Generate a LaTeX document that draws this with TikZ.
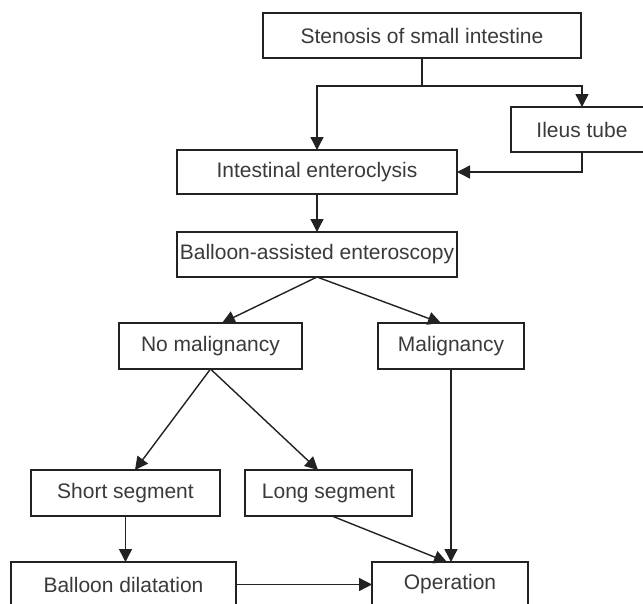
\documentclass[tikz,border=0pt]{standalone}
\usepackage{fontspec}
\setmainfont{Liberation Sans}
\usetikzlibrary{arrows.meta,calc}
\definecolor{linec}{HTML}{222222}
\definecolor{textc}{HTML}{3A3A3A}
\tikzset{
  box/.style={draw=linec, line width=1.4pt, inner sep=0pt, outer sep=0pt,
    font=\fontsize{21}{25}\selectfont, text=textc, anchor=center},
  arr/.style={draw=linec, line width=1.4pt, -{Triangle[length=13pt,width=13pt]}},
  ln/.style={draw=linec, line width=1.4pt}
}
\begin{document}
\begin{tikzpicture}[x=1pt,y=1pt]
\clip (0,0) rectangle (643,-603);
\fill[white] (0,0) rectangle (643,-603);
\node[box, minimum width=318pt, minimum height=45pt] (sten) at (422,-35.5) {Stenosis of small intestine};
\node[box, minimum width=142pt, minimum height=45pt] (ileus) at (582,-129.5) {Ileus tube};
\node[box, minimum width=280pt, minimum height=44pt] (inte) at (317,-172) {Intestinal enteroclysis};
\node[box, minimum width=280pt, minimum height=45pt] (bae) at (317,-254.5) {Balloon-assisted enteroscopy};
\node[box, minimum width=183pt, minimum height=46pt] (nomal) at (210.5,-346) {No malignancy};
\node[box, minimum width=146pt, minimum height=46pt] (mal) at (451,-346) {Malignancy};
\node[box, minimum width=189pt, minimum height=46pt] (short) at (125.5,-493) {Short segment};
\node[box, minimum width=167pt, minimum height=46pt] (long) at (328.5,-493) {Long segment};
\node[box, minimum width=225pt, minimum height=45pt] (bdil) at (123.5,-584.5) {Balloon dilatation};
\node[box, minimum width=156pt, minimum height=45pt] (op) at (450,-584.5) {Operation};
\coordinate (split) at (422,-86);
\draw[ln] (sten.south) -- (split);
\draw[arr] (split) -| (inte.north);
\draw[arr] (split) -| (ileus.north);
\draw[arr] (ileus.south) |- (inte.east);
\draw[arr] (inte.south) -- (bae.north);
\draw[arr] (bae.south) -- ($(nomal.north)+(11.5,0)$);
\draw[arr] (bae.south) -- ($(mal.north)+(-10,0)$);
\draw[arr] (nomal.south) -- ($(short.north)+(9.5,0)$);
\draw[arr] (nomal.south) -- ($(long.north)+(-10.5,0)$);
\draw[arr] (short.south) -- (short.south |- bdil.north);
\draw[arr] (bdil.east) -- (op.west);
\draw[arr] ($(long.south)+(3.5,0)$) -- ($(op.north)+(-3,0)$);
\draw[arr] (mal.south) -- (mal.south |- op.north);
\end{tikzpicture}
\end{document}
